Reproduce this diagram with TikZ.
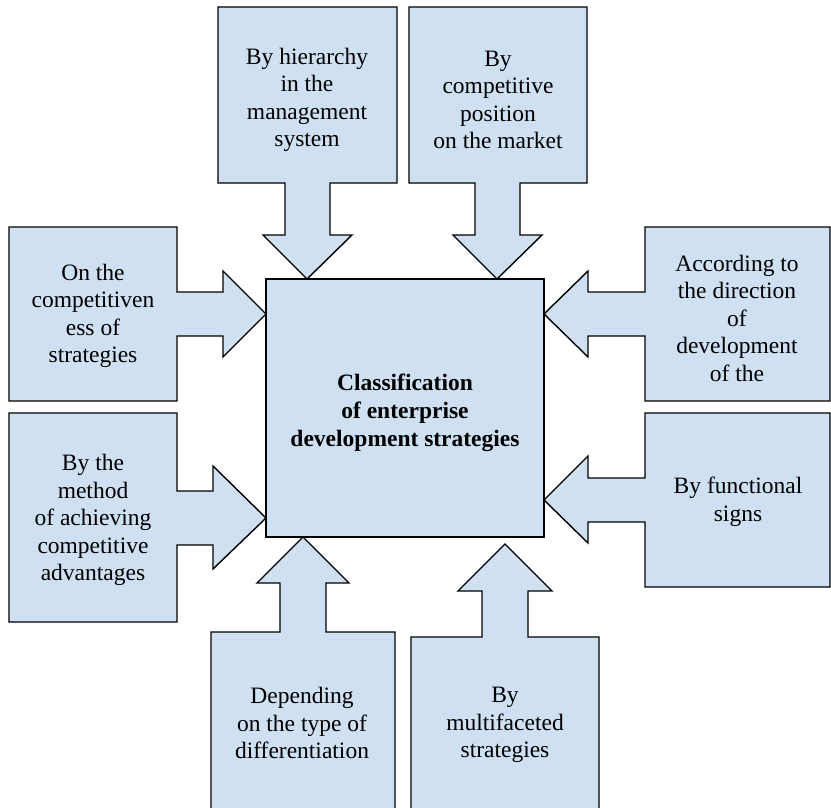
\documentclass[tikz,border=0pt]{standalone}
\usepackage{fontspec}
\setmainfont{Liberation Serif}
\definecolor{boxblue}{RGB}{206,224,242}
\begin{document}
\begin{tikzpicture}[x=1pt,y=-1pt,
  shapebox/.style={draw=black,fill=boxblue,line width=1.4pt,line join=miter},
  lbl/.style={align=center,inner sep=0pt,font=\fontsize{23.5}{27.5}\selectfont},
  mainlbl/.style={align=center,inner sep=0pt,font=\fontsize{23.5}{28.3}\selectfont\bfseries}]
\clip (0,0) rectangle (831,808);
\fill[white] (0,0) rectangle (831,808);
% central box
\draw[shapebox] (266,279) rectangle (544,537);
\node[mainlbl] (main) at (405,413) {Classification\\of enterprise\\development strategies};
% top callouts
\draw[shapebox] (218,7) -- (397,7) -- (397,183) -- (330,183) -- (330,235) -- (352,235) -- (307,279) -- (263,235) -- (285,235) -- (285,183) -- (218,183) -- cycle;
\node[lbl] (t1) at (307,100) {By hierarchy\\in the\\management\\system};
\draw[shapebox] (409,7) -- (587,7) -- (587,183) -- (520,183) -- (520,235) -- (542,235) -- (497,279) -- (453,235) -- (475,235) -- (475,183) -- (409,183) -- cycle;
\node[lbl] (t2) at (498,100) {By\\competitive\\position\\on the market};
% left callouts
\draw[shapebox] (9,227) -- (177,227) -- (177,292) -- (223,292) -- (223,271) -- (266,314) -- (223,357) -- (223,336) -- (177,336) -- (177,401) -- (9,401) -- cycle;
\node[lbl] (t3) at (93,316) {On the\\competitiven\\ess of\\strategies};
\draw[shapebox] (9,413) -- (177,413) -- (177,491) -- (213,491) -- (213,466) -- (266,518) -- (213,569) -- (213,545) -- (177,545) -- (177,622) -- (9,622) -- cycle;
\node[lbl] (t4) at (93,520) {By the\\method\\of achieving\\competitive\\advantages};
% right callouts
\draw[shapebox] (830,227) -- (645,227) -- (645,292) -- (588,292) -- (588,271) -- (544,314) -- (588,357) -- (588,336) -- (645,336) -- (645,401) -- (830,401) -- cycle;
\node[lbl] (t5) at (737,318) {According to\\the direction\\of\\development\\of the};
\draw[shapebox] (830,413) -- (645,413) -- (645,478) -- (588,478) -- (588,456) -- (544,500) -- (588,543) -- (588,522) -- (645,522) -- (645,587) -- (830,587) -- cycle;
\node[lbl] (t6) at (738,502) {By functional\\signs};
% bottom callouts
\draw[shapebox] (211,815) -- (211,632) -- (280,632) -- (280,583) -- (257,583) -- (303,537) -- (349,583) -- (326,583) -- (326,632) -- (395,632) -- (395,815) -- cycle;
\node[lbl] (t7) at (302,723) {Depending\\on the type of\\differentiation};
\draw[shapebox] (411,815) -- (411,637) -- (482,637) -- (482,591) -- (458,591) -- (505,544) -- (552,591) -- (528,591) -- (528,637) -- (599,637) -- (599,815) -- cycle;
\node[lbl] (t8) at (505,725) {By\\multifaceted\\strategies};
\end{tikzpicture}
\end{document}
